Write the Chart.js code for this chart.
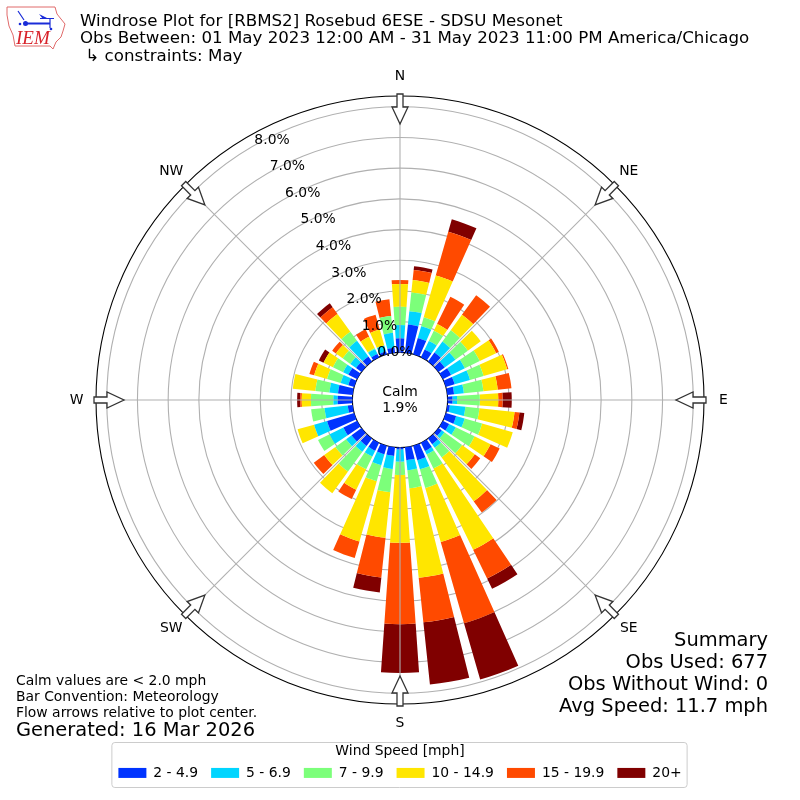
<!DOCTYPE html>
<html lang="en">
<head>
    <meta charset="UTF-8">
    <title>Windrose Plot for [RBMS2] Rosebud 6ESE</title>
    <script src="https://cdn.jsdelivr.net/npm/chart.js"></script>
    <style>
        body { margin: 0; background: #fff; }
        canvas { display: block; }
    </style>
</head>
<body>
    <canvas id="rose" width="800" height="800"></canvas>

    <script>
        // direction of each bar, degrees from north
        const directions = [10, 20, 30, 40, 50, 60, 70, 80, 90, 100, 110, 120, 130, 140, 150, 160, 170, 180,
            190, 200, 210, 220, 230, 240, 250, 260, 270, 280, 290, 300, 310, 320, 330, 340, 350, 360];

        // percent of observations per direction, one array for each speed bin
        const speed2to5 = [.92, .55, .28, .36, .25, .30, .30, .22, .16, .08, .35, .23, .13, .23, .30, .49, .42, .06,
            .28, .29, .29, .30, .40, .50, .92, .16, .48, .48, .20, .32, .22, .20, .12, .10, .16, .46];
        const speed5to7 = [.44, .40, .31, .44, .43, .50, .52, .32, .15, .51, .29, .24, .11, .14, .12, .31, .33, .40,
            .43, .37, .21, .23, .22, .50, .44, .76, .14, .28, .26, .19, .23, .63, .18, .20, .49, .43];
        const speed7to10 = [.61, .30, .37, .46, .50, .54, .46, .64, .74, .46, .59, .68, .71, .39, .51, .63, .59, .43,
            .76, .54, .46, .80, .43, .42, 0, .44, .73, .46, .46, .37, .31, .37, .03, 0, .55, .60];
        const speed10to15 = [.41, 1.42, .24, .62, .52, .59, .80, .47, .60, 1.15, 1.04, .58, .51, 1.77, 2.95, 1.83, 2.93, 2.21,
            1.49, 2.04, .74, .87, .45, 0, .56, 0, .30, .74, .44, .34, .27, .71, .41, .54, 0, .74];
        const speed15to20 = [.33, 1.48, .99, .79, 0, .10, .04, .45, .14, .16, 0, .33, .22, .45, 1.04, 2.75, 1.46, 2.65,
            1.30, .56, .34, 0, .42, 0, 0, 0, .05, 0, .16, 0, .15, .27, .27, .50, .55, .13];
        const speed20up = [.12, .42, 0, 0, 0, 0, 0, 0, .30, .16, 0, 0, 0, 0, .37, 1.91, 2.04, 1.59,
            .49, 0, 0, 0, 0, 0, 0, 0, .10, 0, 0, .17, 0, .16, 0, 0, 0, 0];

        const speedLabels = ['2 - 4.9', '5 - 6.9', '7 - 9.9', '10 - 14.9', '15 - 19.9', '20+'];
        const speedColors = ['#0033ff', '#00d5ff', '#7cff7a', '#ffe600', '#ff4a00', '#800000'];
        const speedSeries = [speed2to5, speed5to7, speed7to10, speed10to15, speed15to20, speed20up];

        const radialTicks = [0, 1, 2, 3, 4, 5, 6, 7, 8];
        const radialMin = -1.55;
        const radialMax = 8.35;
        const compass = ['N', 'NE', 'E', 'SE', 'S', 'SW', 'W', 'NW'];

        const titleLines = ['Windrose Plot for [RBMS2] Rosebud 6ESE - SDSU Mesonet',
            'Obs Between: 01 May 2023 12:00 AM - 31 May 2023 11:00 PM America/Chicago',
            ' \u21b3 constraints: May'];
        const summaryLines = ['Summary', 'Obs Used: 677', 'Obs Without Wind: 0', 'Avg Speed: 11.7 mph'];
        const noteLines = ['Calm values are < 2.0 mph', 'Bar Convention: Meteorology', 'Flow arrows relative to plot center.'];

        const FONT = '"DejaVu Sans", sans-serif';
        const BAR_WIDTH = 8; // degrees

        // polar area, but the arcs of each dataset sit on top of the previous datasets
        class WindRoseController extends Chart.PolarAreaController {
            updateElements(arcs, start, count, mode) {
                const scale = this._cachedMeta.rScale;
                const datasets = this.chart.data.datasets;
                for (let i = start; i < start + count; i++) {
                    let below = 0;
                    for (let d = 0; d < this.index; d++) below += datasets[d].data[i];
                    const value = datasets[this.index].data[i];
                    const mid = (directions[i] - 90) * Math.PI / 180;
                    const half = BAR_WIDTH / 2 * Math.PI / 180;
                    this.updateElement(arcs[i], i, {
                        x: scale.xCenter,
                        y: scale.yCenter,
                        innerRadius: scale.getDistanceFromCenterForValue(below),
                        outerRadius: scale.getDistanceFromCenterForValue(below + value),
                        startAngle: mid - half,
                        endAngle: mid + half,
                        circumference: BAR_WIDTH * Math.PI / 180,
                        options: this.resolveDataElementOptions(i, mode)
                    }, mode);
                }
            }
        }
        WindRoseController.id = 'windRose';
        Chart.register(WindRoseController);

        function drawText(ctx, text, x, y, size, align) {
            ctx.font = size + 'px ' + FONT;
            ctx.textAlign = align || 'left';
            ctx.textBaseline = 'middle';
            ctx.fillStyle = '#000';
            ctx.fillText(text, x, y);
        }

        function drawArrow(ctx, scale, deg) {
            const outer = scale.getDistanceFromCenterForValue(radialMax);
            ctx.save();
            ctx.translate(scale.xCenter, scale.yCenter);
            ctx.rotate(deg * Math.PI / 180);
            ctx.beginPath();
            ctx.moveTo(-3, -outer - 2);
            ctx.lineTo(3, -outer - 2);
            ctx.lineTo(3, -outer + 11);
            ctx.lineTo(8, -outer + 11);
            ctx.lineTo(0, -outer + 28);
            ctx.lineTo(-8, -outer + 11);
            ctx.lineTo(-3, -outer + 11);
            ctx.closePath();
            ctx.fillStyle = '#fff';
            ctx.fill();
            ctx.strokeStyle = '#333';
            ctx.lineWidth = 1.3;
            ctx.stroke();
            ctx.restore();
        }

        function drawLogo(ctx) {
            ctx.save();
            ctx.strokeStyle = '#e06a6a';
            ctx.lineWidth = 1;
            ctx.beginPath();
            [[7, 7], [55, 7], [57, 14], [65, 24], [63, 31], [61, 37], [56, 42], [53, 49], [50, 46], [15, 46], [13, 35], [9, 26], [7, 15]]
                .forEach(function (p, i) { i ? ctx.lineTo(p[0], p[1]) : ctx.moveTo(p[0], p[1]); });
            ctx.closePath();
            ctx.stroke();
            ctx.strokeStyle = ctx.fillStyle = '#1a2cd8';
            ctx.lineWidth = 2;
            ctx.beginPath();
            ctx.moveTo(25, 23.5); ctx.lineTo(50, 23.5);
            ctx.stroke();
            ctx.lineWidth = 1.2;
            ctx.beginPath();
            ctx.moveTo(18, 11); ctx.lineTo(24, 20);
            ctx.moveTo(40, 18.5); ctx.lineTo(54, 18.5);
            ctx.moveTo(50, 19); ctx.lineTo(50, 28);
            ctx.stroke();
            ctx.beginPath();
            ctx.moveTo(39, 14); ctx.lineTo(48, 18.5); ctx.lineTo(43, 19);
            ctx.closePath();
            ctx.fill();
            ctx.beginPath();
            ctx.arc(25.5, 23.5, 2.5, 0, 2 * Math.PI);
            ctx.fill();
            ctx.beginPath();
            ctx.arc(20, 24, 1.3, 0, 2 * Math.PI);
            ctx.fill();
            ctx.beginPath();
            ctx.arc(51, 29, 1.3, 0, 2 * Math.PI);
            ctx.fill();
            ctx.font = 'italic 19px "Liberation Serif", serif';
            ctx.textAlign = 'left';
            ctx.textBaseline = 'alphabetic';
            ctx.fillStyle = '#d8232a';
            ctx.fillText('IEM', 16, 44);
            ctx.restore();
        }

        // everything matplotlib puts around the polar axes that Chart.js has no option for
        const roseExtras = {
            id: 'roseExtras',
            beforeDraw(chart) {
                const ctx = chart.ctx;
                const legend = chart.legend;
                const boxes = legend.legendHitBoxes;
                const last = boxes[boxes.length - 1];
                ctx.save();
                ctx.strokeStyle = '#ccc';
                ctx.lineWidth = 1;
                ctx.beginPath();
                ctx.roundRect(boxes[0].left - 6.5, legend.top + 0.5, last.left + last.width - boxes[0].left + 12, legend.height - 1, 3);
                ctx.stroke();
                ctx.restore();
            },
            afterDraw(chart) {
                const ctx = chart.ctx;
                const scale = chart.scales.r;
                const cx = scale.xCenter;
                const cy = scale.yCenter;
                const r0 = scale.getDistanceFromCenterForValue(0);
                const r1 = scale.getDistanceFromCenterForValue(radialMax);

                ctx.save();
                ctx.strokeStyle = '#b0b0b0';
                ctx.lineWidth = 1.1;
                compass.forEach(function (name, i) {
                    const a = i * 45 * Math.PI / 180;
                    ctx.beginPath();
                    ctx.moveTo(cx + r0 * Math.sin(a), cy - r0 * Math.cos(a));
                    ctx.lineTo(cx + r1 * Math.sin(a), cy - r1 * Math.cos(a));
                    ctx.stroke();
                });
                compass.forEach(function (name, i) {
                    const a = i * 45 * Math.PI / 180;
                    drawArrow(ctx, scale, i * 45);
                    drawText(ctx, name, cx + (r1 + 19.5) * Math.sin(a), cy - (r1 + 19.5) * Math.cos(a), 13.9, 'center');
                });

                // radial labels run along the 330 degree line
                const la = -30 * Math.PI / 180;
                radialTicks.forEach(function (v) {
                    const r = scale.getDistanceFromCenterForValue(v);
                    ctx.font = '13.9px ' + FONT;
                    ctx.textAlign = 'left';
                    ctx.textBaseline = 'bottom';
                    ctx.fillStyle = '#000';
                    ctx.fillText(v.toFixed(1) + '%', cx + r * Math.sin(la) + 1, cy - r * Math.cos(la) + 1);
                });

                drawText(ctx, 'Calm', cx, cy - 8, 13.9, 'center');
                drawText(ctx, '1.9%', cx, cy + 8.5, 13.9, 'center');

                titleLines.forEach(function (t, i) { drawText(ctx, t, 80, 21.5 + i * 17.5, 16.67); });
                summaryLines.forEach(function (t, i) { drawText(ctx, t, 768, 641 + i * 22, 19.45, 'right'); });
                noteLines.forEach(function (t, i) { drawText(ctx, t, 16, 681 + i * 16, 13.9); });
                drawText(ctx, 'Generated: 16 Mar 2026', 16, 730.5, 19.45);
                drawLogo(ctx);
                ctx.restore();
            }
        };

        new Chart(document.getElementById('rose').getContext('2d'), {
            type: 'windRose',
            data: {
                labels: directions,
                datasets: speedSeries.map(function (values, i) {
                    return { label: speedLabels[i], data: values, backgroundColor: speedColors[i], borderWidth: 0 };
                })
            },
            options: {
                responsive: false,
                animation: false,
                layout: { padding: { top: 58, left: 96, right: 96, bottom: 12 } },
                scales: {
                    r: {
                        min: radialMin,
                        max: radialMax,
                        beginAtZero: false,
                        afterBuildTicks: function (scale) {
                            scale.ticks = [radialMin].concat(radialTicks, [radialMax]).map(function (v) { return { value: v }; });
                        },
                        ticks: { display: false, z: 1 },
                        angleLines: { display: false },
                        pointLabels: { display: false },
                        grid: {
                            circular: true,
                            lineWidth: 1.1,
                            color: function (c) {
                                return c.tick && (c.tick.value === radialMax || c.tick.value === 0) ? '#000' : '#b0b0b0';
                            }
                        }
                    }
                },
                plugins: {
                    tooltip: { enabled: false },
                    legend: {
                        position: 'bottom',
                        maxHeight: 46,
                        title: { display: true, text: 'Wind Speed [mph]', color: '#000', font: { family: FONT, size: 13.9 }, padding: { top: 2.7, bottom: -8.4 } },
                        labels: {
                            color: '#000',
                            boxWidth: 28,
                            boxHeight: 10,
                            padding: 13,
                            font: { family: FONT, size: 13.9 },
                            generateLabels: function (chart) {
                                return chart.data.datasets.map(function (ds, i) {
                                    return { text: ds.label, fillStyle: ds.backgroundColor, strokeStyle: ds.backgroundColor, lineWidth: 0, hidden: false, datasetIndex: i };
                                });
                            }
                        }
                    }
                }
            },
            plugins: [roseExtras]
        });
    </script>
</body>
</html>
